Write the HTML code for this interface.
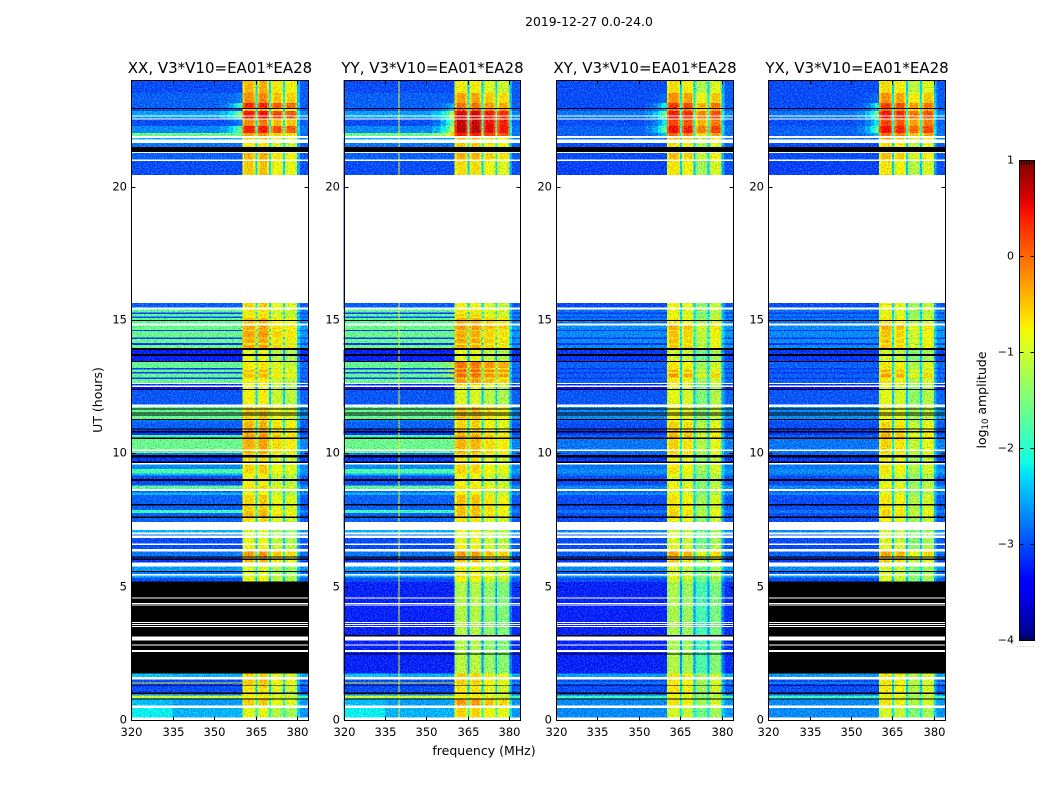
<!DOCTYPE html>
<html lang="en">
<head>
<meta charset="utf-8">
<title>2019-12-27 dynamic spectra</title>
<style>
html,body{margin:0;padding:0;background:#fff;}
svg{display:block;}
text{font-family:"DejaVu Sans","Liberation Sans",sans-serif;fill:#000;}
</style>
</head>
<body>
<svg id="fig" xmlns="http://www.w3.org/2000/svg" width="1050" height="800" viewBox="0 0 1050 800">
  <defs>
    <filter id="speckle" filterUnits="userSpaceOnUse" x="0" y="0" width="1050" height="800" color-interpolation-filters="sRGB">
      <feTurbulence type="fractalNoise" baseFrequency="0.7" numOctaves="2" seed="4" result="n"/>
      <feColorMatrix in="n" type="matrix" values="1 0 0 0 0 1 0 0 0 0 1 0 0 0 0 0 0 0 0 1" result="g"/>
      <feComposite in="SourceGraphic" in2="g" operator="arithmetic" k1="0" k2="1" k3="0.7" k4="-0.35" result="mixed"/>
      <feComposite in="mixed" in2="SourceGraphic" operator="in"/>
    </filter>
    <linearGradient id="jetGrad" x1="0" y1="1" x2="0" y2="0"></linearGradient>
  </defs>
  <text x="589" y="26" font-size="12.4" text-anchor="middle">2019-12-27 0.0-24.0</text>
  <text x="102" y="400" font-size="12.5" text-anchor="middle" transform="rotate(-90 102 400)">UT (hours)</text>
  <text x="484" y="755" font-size="12.5" text-anchor="middle">frequency (MHz)</text>
  <g id="panels"></g>
  <g id="cbar"></g>
  <text x="986" y="400" font-size="12.5" text-anchor="middle" transform="rotate(-90 986 400)">log<tspan font-size="8.5" dy="2">10</tspan><tspan dy="-2"> amplitude</tspan></text>
</svg>
<script>
// ---- axis data ----
const panelNames = ["XX", "YY", "XY", "YX"];
const panelTitleSuffix = ", V3*V10=EA01*EA28";
const freqTicks = [320, 335, 350, 365, 380];
const hourTicks = [0, 5, 10, 15, 20];
const colorTicks = [-4, -3, -2, -1, 0, 1];

// ---- frequency structure of the spectrum (MHz) ----
const bandEdges = [320,335,352,355,357,358.5,360.2,361,364.2,364.9,365.6,366.4,369.2,369.9,370.6,371.4,374.2,374.9,375.6,376.4,379.4,380,381,384];
const bandWeights = [0,0,.03,.08,.15,.25,.88,1,.88,.27,.88,1,.88,.27,.88,1,.88,.27,.88,1,.88,.2,.03];
const bandChannel = [-1,-1,-1,-1,-1,-1,0,0,0,-1,1,1,1,-1,2,2,2,-1,3,3,3,-1,-1];
const channelOffsetXX = [0, 0.05, -0.25, -0.35];
const channelOffsetYY = [0, 0, -0.2, -0.3];
const channelOffsetXY = [0, -0.1, -0.6, -0.3];
const channelOffsetYX = [0, -0.1, -0.5, -0.3];
const rfiFreqYY = [340];
const rfiLevelYY = [-0.85];

// ---- time rows: start (top) hour of each row, then log10 amplitudes ----
const rowTopHours = [24,23.513,23.138,22.913,22.838,22.538,22.275,22.013,21.825,21.638,
21.3,20.963,15.638,15.413,15.281,15.225,15.131,15.075,14.813,14.625,
14.588,14.344,14.288,14.138,14.063,13.875,13.425,13.2,13.144,13.05,
12.994,12.844,12.788,12.638,12.488,12.375,11.738,11.25,11.175,10.886,
10.688,10.538,10.013,9.836,9.6,9.413,9.251,9.161,8.786,8.588,
8.524,8.438,7.875,7.763,7.575,7.125,6.975,6.825,6.563,6.311,
6.113,5.749,5.55,5.419,5.336,5.175,2.438,1.751,1.526,1.399,
1.376,1.275,.975,.926,.825,.776,.45];
const bgParallel = [-2.8,-2.7,-2.7,-2.8,-2.4,-2.8,-2.5,-1.6,-2.3,-2.6,
-2.7,-2.8,-2.7,-1.7,-2.9,-1.7,-2.8,-1.7,-1.6,-2.9,
-1.6,-2.9,-1.6,-2.9,-1.6,-3,-1.65,-2.9,-1.65,-2.9,
-1.65,-2.9,-1.65,-2.9,-3.1,-2.75,-1.65,-2.6,-2.7,-2.9,
-1.8,-1.6,-2.6,-2.9,-2.5,-1.8,-2.3,-2.8,-1.7,-2.7,
-2.3,-2.7,-1.9,-2.7,-2.7,-2.3,-2.7,-2.8,-2.8,-2.6,
-2.9,-2.4,-2.6,-2.3,-2.8,-3,-3,-2.3,-2.8,-1,
-2.9,-2.8,-2.5,-1,-2,-2.4,-2.3];
const bgCross = [-2.8,-2.8,-2.8,-2.8,-2.6,-2.8,-2.7,-2.7,-2.6,-2.8,
-2.8,-2.85,-2.8,-2.6,-2.9,-2.6,-2.8,-2.6,-2.5,-2.9,
-2.5,-2.9,-2.5,-2.9,-2.5,-2.9,-2.7,-2.9,-2.7,-2.9,
-2.7,-2.9,-2.7,-2.9,-3.1,-2.75,-2.5,-2.7,-2.8,-2.9,
-2.7,-2.6,-2.7,-2.9,-2.6,-2.5,-2.6,-2.8,-2.5,-2.7,
-2.5,-2.8,-2.6,-2.8,-2.8,-2.5,-2.7,-2.8,-2.8,-2.7,
-2.9,-2.5,-2.7,-2.4,-2.8,-3,-3,-2.4,-2.8,-2.3,
-2.9,-2.8,-2.7,-1.9,-2.2,-2.5,-2.5];
const chXX = [-.4,-.2,.35,-.4,.45,-.15,.4,-.3,-.6,-.7,
-.4,-.35,-.4,-.5,-.7,-.5,-.6,-.3,-.2,-.4,
-.15,-.4,-.2,-.5,-.15,-.7,-.55,-.6,-.3,-.6,
-.3,-.6,-.6,-.7,-.7,-.6,-.4,-.4,-.25,-.2,
-.1,-.2,-.4,-.5,-.4,-.4,-.6,-.6,-.5,-.7,
-.7,-.4,-.35,-.25,-.5,-.8,-.8,-.7,-.6,-.1,
-.3,-.8,-.8,-.7,-.7,-1,-1,-.45,-.35,-.35,
-.4,-.5,-.5,-.6,-.5,-.4,-.75];
const chYY = [-.7,-.3,-.05,.1,.65,.7,.75,.4,-.4,-.5,
-.35,-.45,-.6,-.5,-.7,-.4,-.6,-.2,-.1,-.5,
-.2,-.4,-.15,-.5,-.2,-.7,.1,-.2,.2,-.2,
.15,-.3,-.1,-.5,-.7,-.75,-.3,-.4,-.4,-.3,
-.15,-.25,-.4,-.5,-.4,-.4,-.6,-.6,-.5,-.7,
-.6,-.3,-.3,-.3,-.5,-.7,-.7,-.7,-.6,-.1,
-.3,-.6,-.6,-.5,-.6,-1,-.95,-.35,-.4,-.4,
-.4,-.5,-.5,-.6,-.4,-.1,-.4];
const chCross = [-.6,-.2,.25,0,.45,.2,.5,0,-.4,-.6,
-.45,-.5,-.6,-.6,-.8,-.6,-.7,-.5,-.2,-.5,
-.3,-.5,-.3,-.5,-.3,-.8,-.5,-.6,-.2,-.6,
-.1,-.6,-.5,-.7,-.8,-.7,-.6,-.6,-.4,-.3,
-.2,-.4,-.5,-.6,-.5,-.5,-.7,-.7,-.6,-.8,
-.7,-.5,-.4,-.4,-.6,-.8,-.8,-.8,-.7,-.15,
-.4,-.8,-.8,-.7,-.8,-1.05,-1,-.5,-.5,-.5,
-.5,-.5,-.5,-.7,-.6,-.5,-.8];
// rows whose low-frequency half is brighter than the rest
const lowFreqExcessHours = [.45, .776, 1.751];
const lowFreqExcessValues = [.3, .15, .1];

// ---- flagged time ranges in hours [high, low] ----
const whiteBands = [[22.669,22.631],[22.556,22.519],[21.9,21.825],[21.769,21.638],[21.3,21.263],[21.019,20.963],[20.438,15.638],[15.469,15.394],[14.869,14.794],[12.638,12.6],[12.544,12.488],[11.831,11.738],[10.136,10.088],[9.638,9.589],[8.663,8.588],[7.425,7.125],[7.024,6.964],[6.911,6.825],[6.611,6.563],[6.413,6.311],[5.914,5.749],[5.475,5.419],[4.594,4.556],[4.388,4.35],[4.324,4.286],[3.675,3.638],[3.6,3.563],[3.525,3.488],[3.124,2.974],[2.839,2.786],[2.625,2.55],[1.613,1.526],[.536,.45],[.101,0]];
const blackBands = [[22.95,22.913],[21.488,21.3],[15,14.963],[13.95,13.875],[13.725,13.65],[13.463,13.425],[12.413,12.375],[11.689,11.651],[11.539,11.486],[11.464,11.411],[11.288,11.25],[10.939,10.886],[10.838,10.789],[10.586,10.538],[9.938,9.836],[9.686,9.638],[9.038,8.963],[8.1,8.036],[7.624,7.575],[6.124,6.094],[6.056,6],[5.588,5.55],[3.188,3.124],[2.486,2.449],[1.301,1.275],[1.024,.975],[.814,.776]];
const blackBandsXXYX = [[5.186,1.751]];

// ---- scales ----
const FREQ_MIN = 320, FREQ_MAX = 384, HOUR_MIN = 0, HOUR_MAX = 24, C_MIN = -4, C_MAX = 1;
const panelStep = 212.28, panelWidth = 176.9, panelLeft0 = 131.25, plotTop = 80, plotBottom = 720;
const cbLeft = 1019, cbRight = 1034, cbTop = 160, cbBottom = 640;
const WING_LAST_BAND = 5, RIGHT_FIRST_BAND = 21, WING_GAIN = 6, WING_FLOOR = -0.3, BLUE_BG_SHIFT = -0.2;
const MID_CHANNEL_SHIFT = -0.15, MID_CHANNEL_BELOW_HOUR = 21;
function xScale(p, f){ return panelLeft0 + p*panelStep + (f-FREQ_MIN)/(FREQ_MAX-FREQ_MIN)*panelWidth; }
function yScale(h){ return plotBottom - (h-HOUR_MIN)/(HOUR_MAX-HOUR_MIN)*(plotBottom-plotTop); }
function cScale(v){ return cbBottom - (v-C_MIN)/(C_MAX-C_MIN)*(cbBottom-cbTop); }
function lerpTable(tbl, t){
  for(let i=1;i<tbl.length;i++){
    if(t<=tbl[i][0]){ const a=tbl[i-1], b=tbl[i]; return a[1]+(b[1]-a[1])*(t-a[0])/(b[0]-a[0]); }
  }
  return tbl[tbl.length-1][1];
}
const jetR = [[0,0],[.35,0],[.66,1],[.89,1],[1,.5]];
const jetG = [[0,0],[.125,0],[.375,1],[.64,1],[.91,0],[1,0]];
const jetB = [[0,.5],[.11,1],[.34,1],[.65,0],[1,0]];
function jet(v){
  const t = Math.max(0, Math.min(1, (v-C_MIN)/(C_MAX-C_MIN)));
  const c = tbl => Math.round(255*lerpTable(tbl,t));
  return "rgb("+c(jetR)+","+c(jetG)+","+c(jetB)+")";
}
function tone(bg){ return bg < -2.2 ? bg + BLUE_BG_SHIFT : bg; }
const NS = "http://www.w3.org/2000/svg";
function mk(tag, parent, attrs, txt){
  const el = document.createElementNS(NS, tag);
  for(const k in attrs) el.setAttribute(k, attrs[k]);
  if(txt !== undefined) el.textContent = txt;
  parent.appendChild(el);
  return el;
}

const panelsG = document.getElementById("panels");
const chanByPanel = [chXX, chYY, chCross, chCross];
const bgByPanel = [bgParallel, bgParallel, bgCross, bgCross];
const offsetByPanel = [channelOffsetXX, channelOffsetYY, channelOffsetXY, channelOffsetYX];

panelNames.forEach(function(name, p){
  const L = Math.round(xScale(p,FREQ_MIN));
  const R = Math.round(xScale(p,FREQ_MAX));
  const g = mk("g", panelsG, {});
  
  

  const heat = mk("g", g, {filter:"url(#speckle)", "shape-rendering":"crispEdges"});
  
  

  rowTopHours.forEach(function(top, r){
    const bottom = r+1 < rowTopHours.length ? rowTopHours[r+1] : HOUR_MIN;
    const y0 = yScale(top), y1 = yScale(bottom);
    const exIdx = lowFreqExcessHours.indexOf(top);
    const shift = top < MID_CHANNEL_BELOW_HOUR ? MID_CHANNEL_SHIFT : 0;
    bandWeights.forEach(function(w, b){
      const x0 = xScale(p, bandEdges[b]), x1 = xScale(p, bandEdges[b+1]);
      const right = b >= RIGHT_FIRST_BAND;
      let base = tone(right ? Math.min(bgByPanel[p][r], bgCross[r]) : bgByPanel[p][r]);
      if(b === 0 && exIdx >= 0 && p < 2) base += lowFreqExcessValues[exIdx];
      const ci = bandChannel[b];
      const level = chanByPanel[p][r] + shift + (ci >= 0 ? offsetByPanel[p][ci] : 0);
      const v = b <= WING_LAST_BAND
        ? base + w*WING_GAIN*Math.max(0, level-WING_FLOOR)
        : base + w*(level-base);
      const cell = mk("rect", heat, {x:x0.toFixed(2), y:y0.toFixed(2), width:(x1-x0+.4).toFixed(2), height:(y1-y0).toFixed(2), fill:jet(v)});
      
      
    });
    if(name === "YY"){
      rfiFreqYY.forEach(function(f, i){
        const line = mk("rect", heat, {x:xScale(p,f-.18).toFixed(2), y:y0.toFixed(2), width:"1", height:(y1-y0).toFixed(2), fill:jet(rfiLevelYY[i])});
        
        
      });
    }
  });

  const drawBand = function(b, color, label){
    const rect = mk("rect", g, {x:L, y:yScale(b[0]).toFixed(2), width:R-L, height:(yScale(b[1])-yScale(b[0])).toFixed(2), fill:color, "shape-rendering":"crispEdges"});
    
    
  };
  blackBands.forEach(function(b){ drawBand(b, "#000", "flagged-black-band"); });
  if(name === "XX" || name === "YX"){
    blackBandsXXYX.forEach(function(b){ drawBand(b, "#000", "flagged-antenna-band"); });
  }
  whiteBands.forEach(function(b){ drawBand(b, "#fff", "flagged-white-band"); });

  const frame = mk("rect", g, {x:L+.5, y:plotTop+.5, width:R-L, height:plotBottom-plotTop, fill:"none", stroke:"#000", "stroke-width":1});
  
  

  const title = mk("text", g, {x:((L+R)/2+.5).toFixed(1), y:73, "font-size":15, "text-anchor":"middle"}, name + panelTitleSuffix);
  
  

  freqTicks.forEach(function(f){
    const x = Math.round(xScale(p,f))+.5;
    const tb = mk("line", g, {x1:x, x2:x, y1:plotBottom+.5, y2:plotBottom-3.5, stroke:"#000"});
    
    
    const tt = mk("line", g, {x1:x, x2:x, y1:plotTop+.5, y2:plotTop+4.5, stroke:"#000"});
    
    
    const lab = mk("text", g, {x:x, y:736, "font-size":11.5, "text-anchor":"middle"}, String(f));
    
    
  });
  hourTicks.forEach(function(h){
    const y = Math.round(yScale(h))+.5;
    const tl = mk("line", g, {x1:L+.5, x2:L+4.5, y1:y, y2:y, stroke:"#000"});
    
    
    const tr = mk("line", g, {x1:R+.5, x2:R-3.5, y1:y, y2:y, stroke:"#000"});
    
    
    const lab = mk("text", g, {x:L-4, y:y+3, "font-size":11.5, "text-anchor":"end"}, String(h));
    
    
  });
});

// ---- colorbar ----
const grad = document.getElementById("jetGrad");
for(let i=0;i<=40;i++){
  mk("stop", grad, {offset:(i/40*100)+"%", "stop-color":jet(C_MIN+(C_MAX-C_MIN)*i/40)});
}
const cb = document.getElementById("cbar");
const cbRect = mk("rect", cb, {x:cbLeft+.5, y:cbTop+.5, width:cbRight-cbLeft, height:cbBottom-cbTop, fill:"url(#jetGrad)", stroke:"#000", "stroke-width":1});


colorTicks.forEach(function(v){
  const y = Math.round(cScale(v))+.5;
  const a = mk("line", cb, {x1:cbLeft+.5, x2:cbLeft+4.5, y1:y, y2:y, stroke:"#000"});
  
  
  const b = mk("line", cb, {x1:cbRight+.5, x2:cbRight-3.5, y1:y, y2:y, stroke:"#000"});
  
  
  const lab = mk("text", cb, {x:cbLeft-5, y:y+3, "font-size":11, "text-anchor":"end"}, String(v).replace("-", "\u2212"));
  
  
});
const cbMinorTicks = [0, 1, 2, 3, 4, 5];
cbMinorTicks.forEach(function(i){
  const x = cbLeft + 2.5 + i*(cbRight-cbLeft-2)/5;
  const a = mk("line", cb, {x1:x, x2:x, y1:cbTop+.5, y2:cbTop+5, stroke:"#000", "stroke-width":.8});
  
  
  const b = mk("line", cb, {x1:x, x2:x, y1:cbBottom+.5, y2:cbBottom-4, stroke:"#000", "stroke-width":.8});
  
  
});
const dots = mk("text", cb, {x:(cbLeft+cbRight)/2-.5, y:647, "font-size":6, "text-anchor":"middle", style:"fill:#777;letter-spacing:1.2px"}, "......");


</script>
</body>
</html>
